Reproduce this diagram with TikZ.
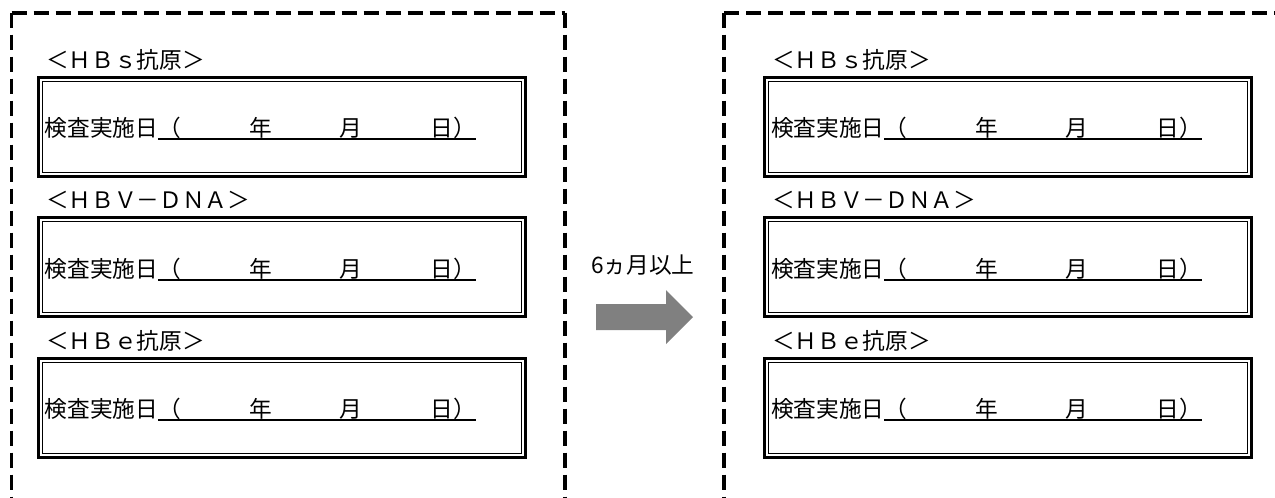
\documentclass[tikz,border=0pt]{standalone}
\usepackage{fontspec}
\setmainfont{Noto Sans CJK JP}
\usetikzlibrary{calc}
\definecolor{arrowgray}{HTML}{808080}
\begin{document}
\begin{tikzpicture}[x=0.75pt,y=-0.75pt,
  every node/.style={inner sep=0pt, outer sep=0pt, font=\fontsize{17}{17}\selectfont},
  outerbox/.style={draw, line width=2.25pt, minimum width=365.25pt, minimum height=73.9pt},
  innerline/.style={line width=0.95pt},
  uline/.style={line width=1.5pt},
  dsh/.style={dash pattern=on 11.25pt off 5.25pt},
  sidethin/.style={dsh, line width=1.9pt},
  sidethick/.style={dsh, line width=3pt}]
\useasboundingbox (0,0) rectangle (1275,497);
% dashed frames
\draw[sidethin] (11.5,12.5) -- (11.5,505);
\draw[sidethick] (11.5,12.5) -- (565,12.5);
\draw[sidethick] (565,12.5) -- (565,505);
\draw[sidethick] (724,12.5) -- (1285,12.5);
\draw[sidethick] (724,12.5) -- (724,505);
% boxes
\foreach \c/\dx in {L/0, R/726} {
  \foreach \r/\dy/\lab in {1/0/{＜ＨＢｓ抗原＞}, 2/140.5/{＜ＨＢＶ－ＤＮＡ＞}, 3/281/{＜ＨＢｅ抗原＞}} {
    \node[anchor=base west] (lab\c\r) at (46+\dx, 68+\dy) {\lab};
    \node[outerbox] (box\c\r) at (282+\dx, 126.75+\dy) {};
    \draw[innerline] ($(box\c\r.north west)+(3.8,3.8)$) rectangle ($(box\c\r.south east)+(-3.8,-3.8)$);
    \node[anchor=base west] (ta\c\r) at (45+\dx, 136.5+\dy) {検査実施日};
    \node[anchor=base west] (tb\c\r) at (ta\c\r.base east) {（　　　年　　　月　　　日）};
    \draw[uline] ([yshift=-1.9pt]tb\c\r.base west) -- ([yshift=-1.9pt]tb\c\r.base east);
  }
}
% arrow
\node (period) at (643,265) {6ヵ月以上};
\fill[arrowgray] (596,304) -- (666,304) -- (666,290) -- (693,317) -- (666,344) -- (666,330) -- (596,330) -- cycle;
\end{tikzpicture}
\end{document}
